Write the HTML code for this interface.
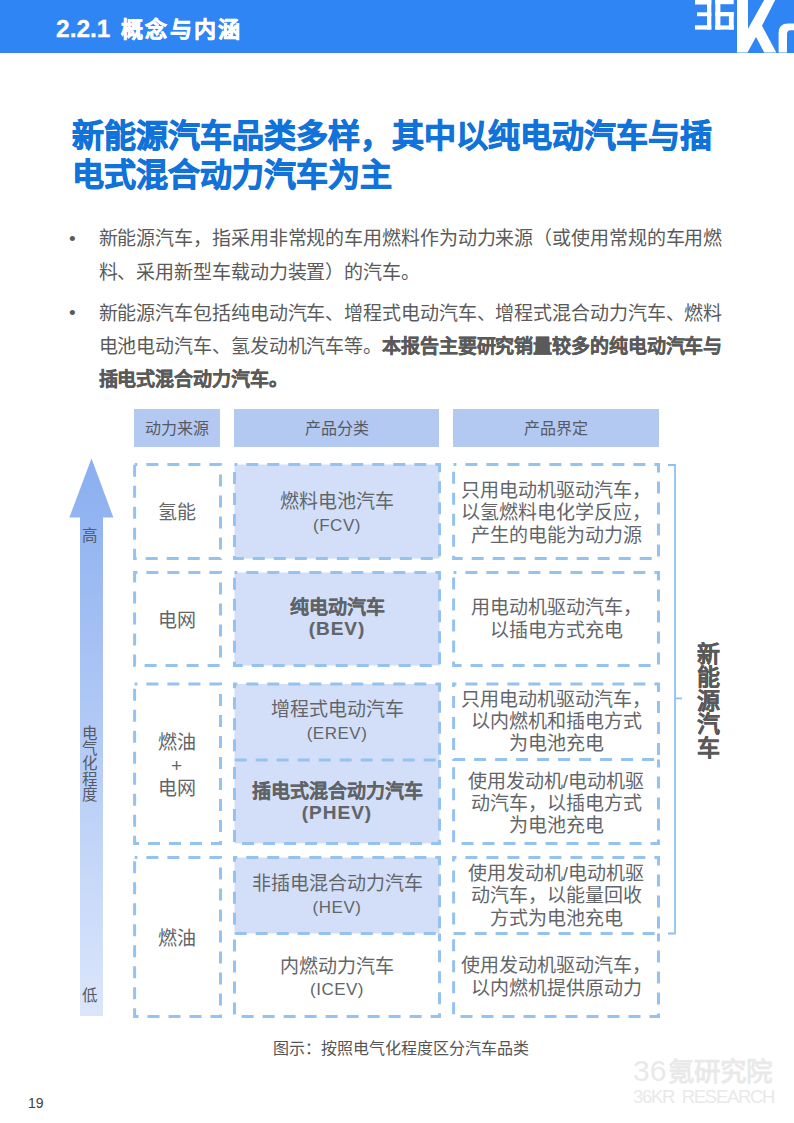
<!DOCTYPE html>
<html lang="zh-CN"><head><meta charset="utf-8">
<style>
html,body{margin:0;padding:0;}
body{width:794px;height:1123px;position:relative;overflow:hidden;background:#fff;font-family:"Liberation Sans",sans-serif;}
.a{position:absolute;white-space:nowrap;}
#bar{left:0;top:0;width:794px;height:52.7px;background:#3085f5;}
#htitle{left:56px;top:14px;font-weight:bold;color:#fff;line-height:30px;}
#title{left:72px;top:117.3px;font-size:32px;font-weight:bold;color:#1173d9;line-height:38.3px;-webkit-text-stroke:0.9px #1173d9;}
.p{left:98.5px;font-size:19px;letter-spacing:-0.1px;color:#5a5a5a;line-height:33.4px;}
.p b{-webkit-text-stroke:0.35px #5a5a5a;}
.bul{left:69px;font-size:19px;color:#5a5a5a;}
.hd{top:409px;height:38px;background:#b4c9f1;color:#555a66;font-size:16px;line-height:39.6px;text-align:center;}
.ct{color:#626569;font-size:19px;text-align:center;line-height:23px;}
.ar{font-size:15.5px;color:#555a66;text-align:center;line-height:18px;}
.b{font-weight:bold;-webkit-text-stroke:0.15px #5f6266;}
.rt{line-height:22.2px;}
.e{font-size:17px;letter-spacing:0.5px;position:relative;top:2px;}
.eb{letter-spacing:1px;}
</style></head><body>
<div id="bar" class="a"></div>
<svg class="a" style="left:0;top:0" width="794" height="53" viewBox="0 0 794 53">
<g fill="#fff">
<rect x="695" y="0" width="16.3" height="4.5"/><rect x="697" y="12.3" width="14.3" height="3.9"/><rect x="695" y="25.3" width="16.3" height="4.3"/><rect x="707" y="0" width="4.3" height="29.6"/>
<rect x="715.3" y="0" width="5.1" height="29.6"/><rect x="715.3" y="0" width="18.4" height="4.2"/><rect x="715.3" y="12" width="18.4" height="4.3"/><rect x="728.9" y="12" width="4.8" height="17.6"/><rect x="715.3" y="25.4" width="18.4" height="4.2"/>
<path d="M737,0 L748,0 L748,28.7 L764.2,0 L775.2,0 L762,25.7 L776.3,52.4 L764.2,52.4 L756,37 L747.5,52.4 L737,52.4 Z"/>
<path d="M778.6,52.4 L778.6,33 Q778.6,23.4 788,23.4 L794,23.4 L794,30.2 L790.5,30.2 Q787,30.2 787,34 L787,52.4 Z"/>
</g></svg>
<div id="htitle" class="a"><span style="font-size:24.5px;-webkit-text-stroke:0.3px #fff">2.2.1</span><span style="font-size:22px;margin-left:10.5px;letter-spacing:2.3px;-webkit-text-stroke:0.5px #fff">概念与内涵</span></div>
<div id="title" class="a">新能源汽车品类多样，其中以纯电动汽车与插<br>电式混合动力汽车为主</div>

<div class="a bul" style="top:227.5px">•</div>
<div class="a p" style="top:222.2px">新能源汽车，指采用非常规的车用燃料作为动力来源（或使用常规的车用燃<br>料、采用新型车载动力装置）的汽车。</div>
<div class="a bul" style="top:302px">•</div>
<div class="a p" style="top:296.6px">新能源汽车包括纯电动汽车、增程式电动汽车、增程式混合动力汽车、燃料<br>电池电动汽车、氢发动机汽车等。<b>本报告主要研究销量较多的纯电动汽车与<br>插电式混合动力汽车。</b></div>

<div class="a hd" style="left:134px;width:86px">动力来源</div>
<div class="a hd" style="left:234px;width:205px">产品分类</div>
<div class="a hd" style="left:453px;width:206px">产品界定</div>

<svg class="a" style="left:0;top:0" width="794" height="1123" viewBox="0 0 794 1123">
<defs><linearGradient id="ag" x1="0" y1="458" x2="0" y2="1016" gradientUnits="userSpaceOnUse"><stop offset="0" stop-color="#8aaef0"/><stop offset="1" stop-color="#dbe6fb"/></linearGradient></defs>
<path d="M91.5,458.5 L113.4,517.6 L103,517.6 L103,1016 L80,1016 L80,517.6 L69.3,517.6 Z" fill="url(#ag)"/>
<g fill="#d3dff8" stroke="none">
<rect x="234.5" y="464.5" width="205.0" height="94.1"/>
<rect x="234.5" y="572.5" width="205.0" height="93.0"/>
<rect x="234.5" y="684" width="205.0" height="76.0"/>
<rect x="234.5" y="760" width="205.0" height="83.4"/>
<rect x="234.5" y="857.5" width="205.0" height="76.0"/>
</g>
<g fill="none" stroke="#96c2f0" stroke-width="3" stroke-dasharray="12 9">
<path d="M134.6,464.5H220.5V558.6H134.6Z" stroke-dashoffset="9.2"/>
<path d="M134.6,572.5H220.5V665.5H134.6Z" stroke-dashoffset="9.2"/>
<path d="M134.6,684H220.5V843.4H134.6Z" stroke-dashoffset="9.2"/>
<path d="M134.6,857.5H220.5V1016.4H134.6Z" stroke-dashoffset="9.2"/>
<path d="M234.5,464.5H439.5V558.6H234.5Z" stroke-dashoffset="9.2"/>
<path d="M234.5,572.5H439.5V665.5H234.5Z" stroke-dashoffset="9.2"/>
<path d="M234.5,684H439.5V760H234.5Z" stroke-dashoffset="9.2"/>
<path d="M439.5,760V843.4H234.5V760" stroke-dashoffset="4.2"/>
<path d="M234.5,857.5H439.5V933.5H234.5Z" stroke-dashoffset="9.2"/>
<path d="M439.5,933.5V1016.4H234.5V933.5" stroke-dashoffset="4.2"/>
<path d="M453.6,464.5H658.5V558.6H453.6Z" stroke-dashoffset="9.2"/>
<path d="M453.6,572.5H658.5V665.5H453.6Z" stroke-dashoffset="9.2"/>
<path d="M453.6,684H658.5V759.5H453.6Z" stroke-dashoffset="9.2"/>
<path d="M658.5,759.5V843.4H453.6V759.5" stroke-dashoffset="4.1"/>
<path d="M453.6,857.5H658.5V933.5H453.6Z" stroke-dashoffset="9.2"/>
<path d="M658.5,933.5V1016.4H453.6V933.5" stroke-dashoffset="4.1"/>
</g>
<path d="M668,465 L675,465 L675,933.5 L668,933.5 M675,698.3 L682,698.3" fill="none" stroke="#8fc0f2" stroke-width="1.8"/>
</svg>
<div class="a ar" style="left:78.5px;top:527px;width:23px">高</div>
<div class="a ar" style="left:78px;top:725.5px;width:23px;line-height:15.4px;white-space:normal">电<br>气<br>化<br>程<br>度</div>
<div class="a ar" style="left:78.5px;top:987px;width:23px">低</div>

<div class="a ct " style="left:133px;width:87px;top:501px">氢能</div>
<div class="a ct " style="left:133px;width:87px;top:609px">电网</div>
<div class="a ct " style="left:133px;width:87px;top:730.5px">燃油<br>+<br>电网</div>
<div class="a ct " style="left:133px;width:87px;top:926.5px">燃油</div>
<div class="a ct " style="left:234px;width:206px;top:492.09999999999997px;line-height:20.6px">燃料电池汽车<br><span class="e">(FCV)</span></div>
<div class="a ct b" style="left:234px;width:206px;top:598.0px;line-height:20.6px">纯电动汽车<br><span class="eb">(BEV)</span></div>
<div class="a ct " style="left:234px;width:206px;top:700.4px;line-height:20.6px">增程式电动汽车<br><span class="e">(EREV)</span></div>
<div class="a ct b" style="left:234px;width:206px;top:782.3px;line-height:20.6px">插电式混合动力汽车<br><span class="eb">(PHEV)</span></div>
<div class="a ct " style="left:234px;width:206px;top:874.1999999999999px;line-height:20.6px">非插电混合动力汽车<br><span class="e">(HEV)</span></div>
<div class="a ct " style="left:234px;width:206px;top:956.6999999999999px;line-height:20.6px">内燃动力汽车<br><span class="e">(ICEV)</span></div>
<div class="a ct rt" style="left:453px;width:206px;top:480.2px">只用电动机驱动汽车，<br>以氢燃料电化学反应，<br>产生的电能为动力源</div>
<div class="a ct rt" style="left:453px;width:206px;top:597.4px">用电动机驱动汽车，<br>以插电方式充电</div>
<div class="a ct rt" style="left:453px;width:206px;top:688.6px">只用电动机驱动汽车，<br>以内燃机和插电方式<br>为电池充电</div>
<div class="a ct rt" style="left:453px;width:206px;top:770.5px">使用发动机/电动机驱<br>动汽车，以插电方式<br>为电池充电</div>
<div class="a ct rt" style="left:453px;width:206px;top:863.2px">使用发动机/电动机驱<br>动汽车，以能量回收<br>方式为电池充电</div>
<div class="a ct rt" style="left:453px;width:206px;top:955.3px">使用发动机驱动汽车，<br>以内燃机提供原动力</div>

<div class="a" id="vt" style="left:697px;top:642.5px;width:24px;font-size:23px;line-height:23.6px;font-weight:bold;color:#595959;-webkit-text-stroke:0.25px #595959;white-space:normal">新<br>能<br>源<br>汽<br>车</div>

<div class="a" id="cap" style="left:273px;top:1037.5px;font-size:16px;color:#555;line-height:22px">图示：按照电气化程度区分汽车品类</div>
<div class="a" id="pn" style="left:28px;top:1094px;font-size:14px;color:#404040;line-height:18px">19</div>
<div class="a" id="wm1" style="left:633px;top:1055px;font-weight:bold;color:#e9e9e9;line-height:32px"><span style="font-size:30px;font-weight:normal">36</span><span style="font-size:26.5px;margin-left:2px">氪研究院</span></div>
<div class="a" id="wm2" style="left:633px;top:1087.5px;font-size:18.5px;letter-spacing:-1.3px;color:#e9e9e9;line-height:18px">36KR&nbsp; RESEARCH</div>
</body></html>
